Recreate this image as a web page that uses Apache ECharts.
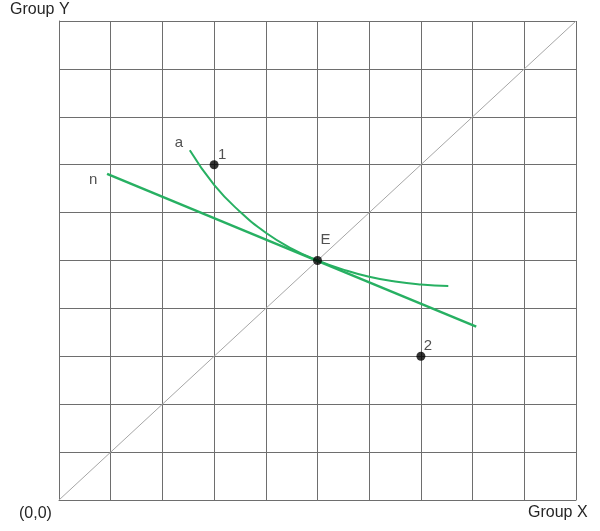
<!DOCTYPE html>
<html lang="en">
<head>
    <meta charset="UTF-8">
    <title>Group X / Group Y</title>
    <style>
        html, body { margin: 0; padding: 0; background: #fff; }
        #main { width: 600px; height: 531px; }
    </style>
</head>
<body>
<div id="main"></div>
<script src="https://cdn.jsdelivr.net/npm/echarts@6/dist/echarts.min.js"></script>
<script type="text/javascript">
    // data (grid units 0..10)
    var diagonal = [[0, 0], [10, 10]];
    var lineN = [[0.93, 6.81], [8.07, 3.62]];
    var curveA = [
        [2.53, 7.30], [3.0, 6.58], [3.5, 6.02], [4.0, 5.58], [4.5, 5.25],
        [5.0, 5.0], [5.5, 4.81], [6.0, 4.66], [6.5, 4.56], [7.0, 4.50], [7.53, 4.47]
    ];
    var pointNames = ['E', '1', '2'];
    var pointValues = [[5, 5], [3, 7], [7, 3]];
    var curveNames = ['a', 'n'];
    var curveLabelPos = [[2.32, 7.45], [0.66, 6.68]];

    var green = '#27b062';
    var gridColor = '#6e6e6e';
    var textColor = '#262626';
    var font = 'Liberation Sans, Arial, sans-serif';

    var labelOffsets = { 'E': [8, -21], '1': [8, -10], '2': [7, -10] };

    var myChart = echarts.init(document.getElementById('main'));

    var axisCommon = {
        type: 'value',
        min: 0,
        max: 10,
        interval: 1,
        axisLine: { show: true, lineStyle: { color: gridColor, width: 1 } },
        axisTick: { show: false },
        axisLabel: { show: false },
        splitLine: { show: true, lineStyle: { color: gridColor, width: 1 } }
    };

    var option = {
        animation: false,
        backgroundColor: '#fff',
        grid: { left: 59, right: 24, top: 21, bottom: 31 },
        xAxis: axisCommon,
        yAxis: axisCommon,
        graphic: [
            { type: 'text', left: 10, top: 2, style: { text: 'Group Y', font: '16px ' + font, fill: textColor } },
            { type: 'text', left: 528, top: 505, style: { text: 'Group X', font: '16px ' + font, fill: textColor } },
            { type: 'text', left: 19, top: 506, style: { text: '(0,0)', font: '16px ' + font, fill: textColor } }
        ],
        series: [
            {
                type: 'line',
                data: diagonal,
                symbol: 'none',
                lineStyle: { color: '#a6a6a6', width: 1 },
                silent: true
            },
            {
                type: 'line',
                data: lineN,
                symbol: 'none',
                lineStyle: { color: green, width: 2.5 },
                silent: true
            },
            {
                type: 'line',
                data: curveA,
                symbol: 'none',
                smooth: true,
                lineStyle: { color: green, width: 2 },
                silent: true
            },
            {
                type: 'scatter',
                symbolSize: 9,
                itemStyle: { color: '#000' },
                data: pointNames.map(function (n, i) {
                    return {
                        name: n,
                        value: pointValues[i],
                        label: { offset: labelOffsets[n] }
                    };
                }),
                label: {
                    show: true,
                    position: 'inside',
                    formatter: '{b}',
                    color: textColor,
                    fontSize: 15,
                    fontFamily: font
                },
                z: 5
            },
            {
                type: 'scatter',
                symbolSize: 0,
                data: curveNames.map(function (n, i) {
                    return { name: n, value: curveLabelPos[i] };
                }),
                label: {
                    show: true,
                    position: 'inside',
                    formatter: '{b}',
                    color: textColor,
                    fontSize: 15,
                    fontFamily: font
                },
                silent: true
            }
        ]
    };

    myChart.setOption(option);
</script>
</body>
</html>
